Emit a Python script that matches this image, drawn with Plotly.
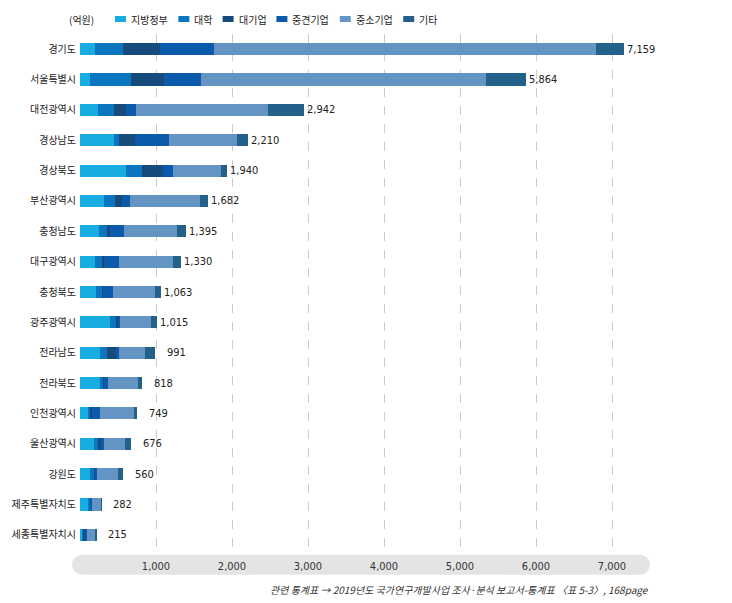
import plotly.graph_objects as go

regions = ["경기도", "서울특별시", "대전광역시", "경상남도", "경상북도", "부산광역시", "충청남도",
           "대구광역시", "충청북도", "광주광역시", "전라남도", "전라북도", "인천광역시", "울산광역시",
           "강원도", "제주특별자치도", "세종특별자치시"]
local_gov = [200, 136, 241, 452, 601, 320, 254, 197, 211, 390, 268, 263, 101, 189, 132, 105, 30]
university = [365, 531, 202, 57, 215, 140, 96, 92, 79, 96, 88, 44, 30, 48, 57, 30, 18]
large_corp = [487, 438, 167, 219, 276, 92, 44, 31, 10, 10, 123, 10, 30, 35, 5, 5, 22]
mid_corp = [710, 482, 132, 447, 127, 110, 180, 193, 132, 30, 35, 50, 101, 48, 30, 20, 22]
small_corp = [5022, 3750, 1728, 886, 636, 917, 702, 715, 557, 408, 342, 399, 443, 268, 281, 118, 118]
others = [375, 527, 472, 149, 85, 103, 119, 102, 74, 81, 135, 52, 44, 88, 55, 4, 5]
totals = [7159, 5864, 2942, 2210, 1940, 1682, 1395, 1330, 1063, 1015, 991, 818, 749, 676, 560, 282, 215]
total_labels = ["7,159", "5,864", "2,942", "2,210", "1,940", "1,682", "1,395", "1,330", "1,063",
                "1,015", "991", "818", "749", "676", "560", "282", "215"]

series_names = ["지방정부", "대학", "대기업", "중견기업", "중소기업", "기타"]
series_values = [local_gov, university, large_corp, mid_corp, small_corp, others]
series_colors = ["#17ade0", "#0b76c0", "#174b7b", "#0b5aac", "#6494c4", "#22628a"]

tick_vals = [0, 1000, 2000, 3000, 4000, 5000, 6000, 7000]
tick_text = ["", "1,000", "2,000", "3,000", "4,000", "5,000", "6,000", "7,000"]

NUMFONT = "Liberation Sans Narrow, DejaVu Sans Condensed, Liberation Sans, sans-serif"
KRFONT = "Noto Sans CJK KR, sans-serif"

fig = go.Figure()
for name, vals, col in zip(series_names, series_values, series_colors):
    fig.add_trace(go.Bar(y=regions, x=vals, name=name, orientation="h",
                         marker=dict(color=col, line=dict(width=0)), width=0.4,
                         showlegend=False, hoverinfo="x+name"))

# layout geometry: page has an 8px body margin, so figure coords = screen coords - 8
OFF = 8
W, H = 732, 603
plot_left, plot_right, plot_top, plot_bottom = 80 - OFF, 650 - OFF, 34 - OFF, 550.2 - OFF
L, R, T, B = plot_left, W - plot_right, plot_top, H - plot_bottom
pw, ph = plot_right - plot_left, plot_bottom - plot_top

def px(x):  # screen x -> paper
    return (x - OFF - plot_left) / pw

def py(y):  # screen y -> paper
    return (plot_bottom - (y - OFF)) / ph

annotations = []
for reg, tot, lab in zip(regions, totals, total_labels):
    annotations.append(dict(x=tot, y=reg, xref="x", yref="y", text=lab, showarrow=False,
                            xanchor="right", xshift=33, font=dict(family=NUMFONT, size=11, color="#222")))

# unit label and manual legend
annotations.append(dict(x=px(67), y=py(19), xref="paper", yref="paper", text="(억원)", showarrow=False,
                        xanchor="left", yanchor="middle", font=dict(family=KRFONT, size=10, color="#222")))
shapes = []
xpos = 115
for name, col in zip(series_names, series_colors):
    shapes.append(dict(type="rect", xref="paper", yref="paper", x0=px(xpos), x1=px(xpos + 11),
                       y0=py(22), y1=py(16), fillcolor=col, line=dict(width=0)))
    annotations.append(dict(x=px(xpos + 14), y=py(19), xref="paper", yref="paper", text=name,
                            showarrow=False, xanchor="left", yanchor="middle",
                            font=dict(family=KRFONT, size=10, color="#222")))
    xpos += 11 + 5 + len(name) * 9.6 + 9

# footer
annotations.append(dict(x=px(651), y=py(590), xref="paper", yref="paper",
                        text="<i>관련 통계표 → 2019년도 국가연구개발사업 조사·분석 보고서-통계표 〈표 5-3〉, 168page</i>",
                        showarrow=False, xanchor="right", yanchor="middle",
                        font=dict(family=KRFONT, size=10, color="#333")))

# rounded band behind x tick labels
bx0, bx1, by0, by1 = 72, 650, 555, 575
r = (by1 - by0) / 2
k = 0.5523 * r
path = (f"M {px(bx0 + r)},{py(by0)} L {px(bx1 - r)},{py(by0)} "
        f"C {px(bx1 - r + k)},{py(by0)} {px(bx1)},{py(by0 + r - k)} {px(bx1)},{py(by0 + r)} "
        f"C {px(bx1)},{py(by0 + r + k)} {px(bx1 - r + k)},{py(by1)} {px(bx1 - r)},{py(by1)} "
        f"L {px(bx0 + r)},{py(by1)} "
        f"C {px(bx0 + r - k)},{py(by1)} {px(bx0)},{py(by0 + r + k)} {px(bx0)},{py(by0 + r)} "
        f"C {px(bx0)},{py(by0 + r - k)} {px(bx0 + r - k)},{py(by0)} {px(bx0 + r)},{py(by0)} Z")
shapes.append(dict(type="path", xref="paper", yref="paper", path=path, fillcolor="#e4e4e4",
                   line=dict(width=0), layer="below"))

fig.update_layout(
    width=W, height=H, barmode="stack", bargap=0.6,
    margin=dict(l=L, r=R, t=T, b=B, pad=0, autoexpand=False),
    paper_bgcolor="white", plot_bgcolor="white",
    font=dict(family=KRFONT, size=12, color="#222"),
    xaxis=dict(range=[0, 7500], tickvals=tick_vals, ticktext=tick_text, showgrid=True,
               gridcolor="#cccccc", griddash="dash", gridwidth=1, zeroline=False, showline=False,
               ticks="", ticklabelstandoff=8, automargin=False,
               tickfont=dict(family=NUMFONT, size=11, color="#333"), fixedrange=True),
    yaxis=dict(categoryorder="array", categoryarray=regions, range=[16.5, -0.5], showgrid=False,
               zeroline=False, showline=False, ticks="", ticklabelstandoff=3, automargin=False,
               tickfont=dict(family=KRFONT, size=10, color="#222"), fixedrange=True),
    annotations=annotations, shapes=shapes, showlegend=False,
)

fig.write_html("out.html")
